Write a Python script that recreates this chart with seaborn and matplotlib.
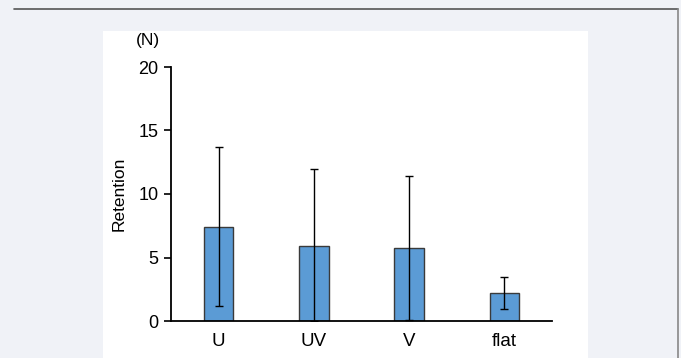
import matplotlib
matplotlib.use("Agg")
import matplotlib.pyplot as plt
import seaborn as sns
import pandas as pd
from matplotlib.patches import Rectangle
from matplotlib.lines import Line2D

# values
groups = ["U", "UV", "V", "flat"]
retention = [7.4, 5.9, 5.75, 2.2]
err_low = [6.2, 5.9, 5.65, 1.25]
err_high = [6.3, 6.1, 5.65, 1.26]

df = pd.DataFrame({"group": groups, "retention": retention})

sns.set_style("white")
plt.rcParams["font.family"] = ["Liberation Sans", "DejaVu Sans"]
plt.rcParams["text.color"] = "black"
plt.rcParams["axes.labelcolor"] = "black"
plt.rcParams["xtick.color"] = "black"
plt.rcParams["ytick.color"] = "black"

fig = plt.figure(figsize=(6.81, 3.58), dpi=100)
fig.patch.set_facecolor("#f0f2f7")

# white panel and frame lines
fig.patches.append(Rectangle((103 / 681, 0), 485 / 681, 327 / 358,
                             transform=fig.transFigure, facecolor="white",
                             edgecolor="none", zorder=-5))
fig.add_artist(Line2D([14 / 681, 678 / 681], [1 - 8.5 / 358, 1 - 8.5 / 358],
                      transform=fig.transFigure, color="#555555", lw=1.2))
fig.add_artist(Line2D([678 / 681, 678 / 681], [0, 1 - 8.5 / 358],
                      transform=fig.transFigure, color="#888888", lw=1.2))

ax = fig.add_axes([171 / 681, 37 / 358, 381 / 681, 254 / 358])
ax.set_facecolor("none")

sns.barplot(data=df, x="group", y="retention", color="#5b9bd5",
            saturation=1, width=0.31, edgecolor="#3a3a3a", linewidth=1.0, ax=ax)
ax.errorbar(range(len(groups)), retention, yerr=[err_low, err_high],
            fmt="none", ecolor="black", elinewidth=1.0, capsize=3, capthick=1.0)

ax.set_xlim(-0.5, 3.5)
ax.set_ylim(0, 20)
ax.set_yticks([0, 5, 10, 15, 20])
ax.set_xlabel("")
ax.set_ylabel("Retention", fontsize=12.5)
ax.yaxis.set_label_coords(-0.117, 0.5)
ax.tick_params(axis="y", direction="out", length=5, width=1.2, left=True,
               labelsize=13, pad=4)
ax.tick_params(axis="x", length=0, labelsize=13.5, pad=9)
for side in ["top", "right"]:
    ax.spines[side].set_visible(False)
for side in ["left", "bottom"]:
    ax.spines[side].set_color("black")
    ax.spines[side].set_linewidth(1.3)

fig.text(148 / 681, 1 - 41 / 358, "(N)", fontsize=12.5, ha="center", va="center")

fig.savefig("out.png", dpi=100, facecolor=fig.get_facecolor())
